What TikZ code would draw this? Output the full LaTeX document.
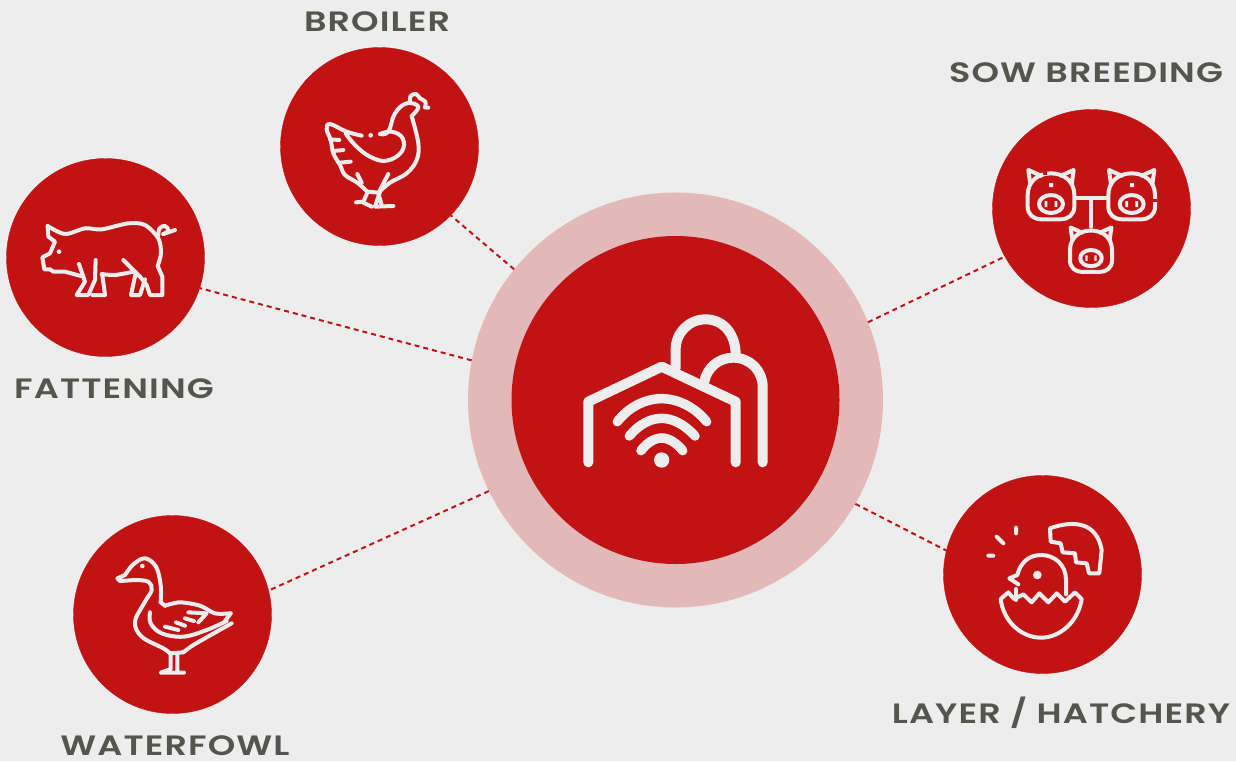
\documentclass[tikz,border=0pt]{standalone}
\usepackage{fontspec}
\setmainfont{Poppins}[LetterSpace=4.0,FakeStretch=1.25,BoldFont={Poppins SemiBold}]

\definecolor{pagegray}{HTML}{EDEDED}
\definecolor{farmred}{HTML}{C21314}
\definecolor{ringpink}{HTML}{E2B8B8}
\definecolor{labelgray}{HTML}{555550}

\newcommand{\pigface}[3]{%
  \begin{scope}[shift={(#1,#2)},x=#3*1pt,y=-#3*1pt]
    \draw[iconline] (-70,0) .. controls (-70,-40) and (-40,-65) .. (0,-65) .. controls (40,-65) and (70,-40) .. (70,0) -- (70,35) .. controls (70,60) and (50,73) .. (30,73) -- (-30,73) .. controls (-50,73) and (-70,60) .. (-70,35) -- cycle;
    \draw[iconline] (-62,-32) -- (-68,-75) -- (-30,-58);
    \draw[iconline] (62,-32) -- (68,-75) -- (30,-58);
    \draw[iconline] (0,27) ellipse (36 and 27);
    \fill[pagegray] (-19,18) rectangle (-11,36) (11,18) rectangle (19,36);
  \end{scope}}

\begin{document}
\begin{tikzpicture}[
    x=1pt, y=-1pt,
    spoke/.style={draw=farmred, fill=farmred, circle, minimum size=198pt, inner sep=0pt},
    caption/.style={text=labelgray, font=\fontsize{28}{30}\selectfont\bfseries, inner sep=0pt},
    link/.style={draw=farmred, line width=2pt, dash pattern=on 5pt off 4pt},
    iconline/.style={draw=pagegray, line width=4pt, line cap=round, line join=round},
    hubline/.style={draw=pagegray, line width=10pt, line cap=round, line join=round},
    wifiline/.style={draw=pagegray, line width=9.5pt, line cap=round},
    zoomed/.style={x=1/3*1pt, y=-1/3*1pt}
  ]
  \useasboundingbox (0,0) rectangle (1236,761);
  \fill[pagegray] (0,0) rectangle (1236,761);

  \node[fill=ringpink, circle, minimum size=415pt, inner sep=0pt] (ring) at (675.5,400) {};
  \node[fill=farmred, circle, minimum size=328pt, inner sep=0pt] (hub) at (675.5,400) {};

  \node[spoke] (broiler) at (379.5,146.5) {};
  \node[spoke] (fattening) at (105.5,257.5) {};
  \node[spoke] (sow) at (1091.5,208.5) {};
  \node[spoke] (layer) at (1042.5,574.5) {};
  \node[spoke] (waterfowl) at (172.5,614.5) {};

  \node[caption] (broilertext) at (377,22) {BROILER};
  \node[caption] (fatteningtext) at (114,389) {FATTENING};
  \node[caption] (sowtext) at (1086,73) {SOW BREEDING};
  \node[caption] (layertext) at (1061,713) {LAYER / HATCHERY};
  \node[caption] (waterfowltext) at (175,746) {WATERFOWL};

  \draw[link] (ring.141) -- (broiler.-44);
  \draw[link] (ring.169.5) -- (fattening.-18.3);
  \draw[link] (ring.22) -- (sow.209);
  \draw[link] (ring.-30.5) -- (layer.166.4);
  \draw[link] (ring.206.9) -- (waterfowl.14);

  % barn
  \begin{scope}[shift={(560,300)},zoomed]
    \draw[hubline] (85,487) -- (85,305) -- (305,200) -- (527,305) -- (527,487);
    \draw[hubline] (347,205) -- (347,148) .. controls (347,98) and (387,58) .. (437,58) .. controls (487,58) and (527,98) .. (527,165);
    \draw[hubline] (433,245) .. controls (440,205) and (475,173) .. (520,173) .. controls (570,173) and (608,212) .. (608,260) -- (608,487);
    \draw[wifiline] (172,365) .. controls (205,322) and (255,296) .. (305,296) .. controls (355,296) and (405,322) .. (440,365);
    \draw[wifiline] (208,408) .. controls (235,375) and (270,355) .. (305,355) .. controls (340,355) and (375,375) .. (405,408);
    \draw[wifiline] (243,452) .. controls (260,428) and (285,414) .. (305,414) .. controls (325,414) and (350,428) .. (368,452);
    \fill[pagegray] (305,480) circle (23);
  \end{scope}

  % hen
  \begin{scope}[shift={(280,50)},zoomed]
    \draw[iconline] plot[smooth,tension=.6] coordinates {(245,257) (200,245) (150,222) (140,238) (152,270) (160,310) (180,345) (195,375) (232,398) (262,425)};
    \draw[iconline] (262,425) -- (295,428);
    \draw[iconline] plot[smooth,tension=.6] coordinates {(295,428) (330,398) (380,370) (410,330) (415,280) (395,198)};
    \draw[iconline] plot[smooth,tension=.7] coordinates {(300,252) (325,245) (345,190) (380,160) (415,170) (395,198)};
    \draw[iconline] plot[smooth,tension=.7] coordinates {(300,252) (335,245) (368,265) (365,305) (320,332) (270,320) (225,285) (197,250)};
    \draw[iconline] plot[smooth,tension=.6] coordinates {(390,155) (392,138) (408,132) (420,145) (436,155) (435,172)};
    \draw[iconline] (435,172) -- (445,173);
    \draw[iconline] (150,268) -- (178,270) (160,303) -- (190,300) (180,338) -- (212,335);
    \draw[iconline] (232,372) -- (245,398) (325,372) -- (300,420);
    \draw[iconline] (262,428) -- (250,455) -- (228,457) (250,458) -- (275,470);
    \draw[iconline] (295,430) -- (305,465) (300,425) -- (285,470) -- (340,468);
    \fill[pagegray] (272,256) circle (7);
  \end{scope}

  % pig
  \begin{scope}[shift={(5,160)},zoomed]
    \draw[iconline] plot[smooth,tension=.5] coordinates {(128,198) (180,222) (240,205) (290,208) (370,190) (420,195) (460,235) (468,280) (458,318)};
    \draw[iconline] (458,318) -- (472,350) -- (472,405) -- (435,405) -- (425,375) -- (405,350) -- (355,300);
    \draw[iconline] (128,198) -- (130,230) -- (150,245) -- (135,280) -- (112,292) -- (118,328) -- (135,328) -- (145,335) -- (180,335) -- (228,348);
    \draw[iconline] (222,312) -- (240,365) -- (215,405) -- (250,405) -- (270,360) -- (272,300);
    \draw[iconline] (262,405) -- (300,405) -- (292,345);
    \draw[iconline] plot[smooth,tension=.5] coordinates {(290,342) (330,345) (385,335)};
    \draw[iconline] (392,340) -- (378,405) -- (405,405) -- (420,358);
    \draw[iconline] plot[smooth,tension=.7] coordinates {(460,225) (464,205) (480,198) (490,212) (475,222)};
    \draw[iconline] (475,222) -- (510,210);
    \fill[pagegray] (162,275) circle (7);
  \end{scope}

  % sow and piglets
  \begin{scope}[shift={(990,110)},zoomed]
    \pigface{183}{255}{1/3}
    \pigface{425}{255}{1/3}
    \pigface{303}{420}{.3}
    \draw[farmred, line width=4.4pt] (495,266) -- (495,275);
    \draw[farmred, line width=4.4pt] (160,189) -- (171,189);
    \draw[iconline] (255,265) -- (352,265) (303,265) -- (303,350);
    \fill[pagegray] (177,219) rectangle (189,231) (420,219) rectangle (432,231);
  \end{scope}

  % hatching chick
  \begin{scope}[shift={(940,475)},zoomed]
    \draw[iconline] (182,372) -- (205,352) -- (222,372) -- (250,358) -- (275,382) -- (298,355) -- (325,382) -- (350,355) -- (375,380) -- (405,352) -- (425,372) .. controls (415,440) and (360,488) .. (303,488) .. controls (245,488) and (190,440) .. (182,372) -- cycle;
    \draw[iconline] (378,358) -- (378,315) .. controls (378,270) and (345,240) .. (303,240) .. controls (265,240) and (240,265) .. (232,300) -- (208,310) -- (235,328);
    \draw[iconline] (228,342) -- (228,375);
    \fill[pagegray] (292,300) circle (13);
    \draw[iconline] (228,158) -- (228,175) (170,185) -- (190,205) (145,242) -- (160,242);
    \draw[iconline] (330,160) .. controls (400,135) and (470,140) .. (485,225) -- (478,295) -- (447,295) -- (440,265) -- (408,262) -- (405,235) -- (368,232) -- (362,205) -- (332,200) -- cycle;
  \end{scope}

  % duck
  \begin{scope}[shift={(70,515)},zoomed]
    \draw[iconline] plot[smooth,tension=.6] coordinates {(165,180) (190,148) (225,130) (258,155) (272,210) (272,262)};
    \draw[iconline] (272,262) -- (285,272);
    \draw[iconline] plot[smooth,tension=.5] coordinates {(285,272) (330,262) (390,272) (435,295) (482,295)};
    \draw[iconline] (165,180) -- (142,190) -- (150,198) -- (195,195);
    \draw[iconline] plot[smooth,tension=.6] coordinates {(195,195) (235,200) (245,225) (225,260) (195,320) (215,365) (280,400) (300,415)};
    \draw[iconline] (300,415) -- (340,412);
    \draw[iconline] plot[smooth,tension=.5] coordinates {(340,412) (370,390) (440,350) (485,325)};
    \draw[iconline] (482,295) -- (465,318);
    \draw[iconline] plot[smooth,tension=.6] coordinates {(240,292) (242,325) (275,355) (340,365) (410,345) (470,318)};
    \draw[iconline] (302,415) -- (302,462) -- (272,473) -- (342,473) (322,415) -- (322,470);
    \draw[iconline] (355,292) -- (410,295) -- (385,322) (345,310) -- (372,318) (318,322) -- (345,332) (285,335) -- (325,345);
    \fill[pagegray] (217,153) circle (7);
  \end{scope}
\end{tikzpicture}
\end{document}
